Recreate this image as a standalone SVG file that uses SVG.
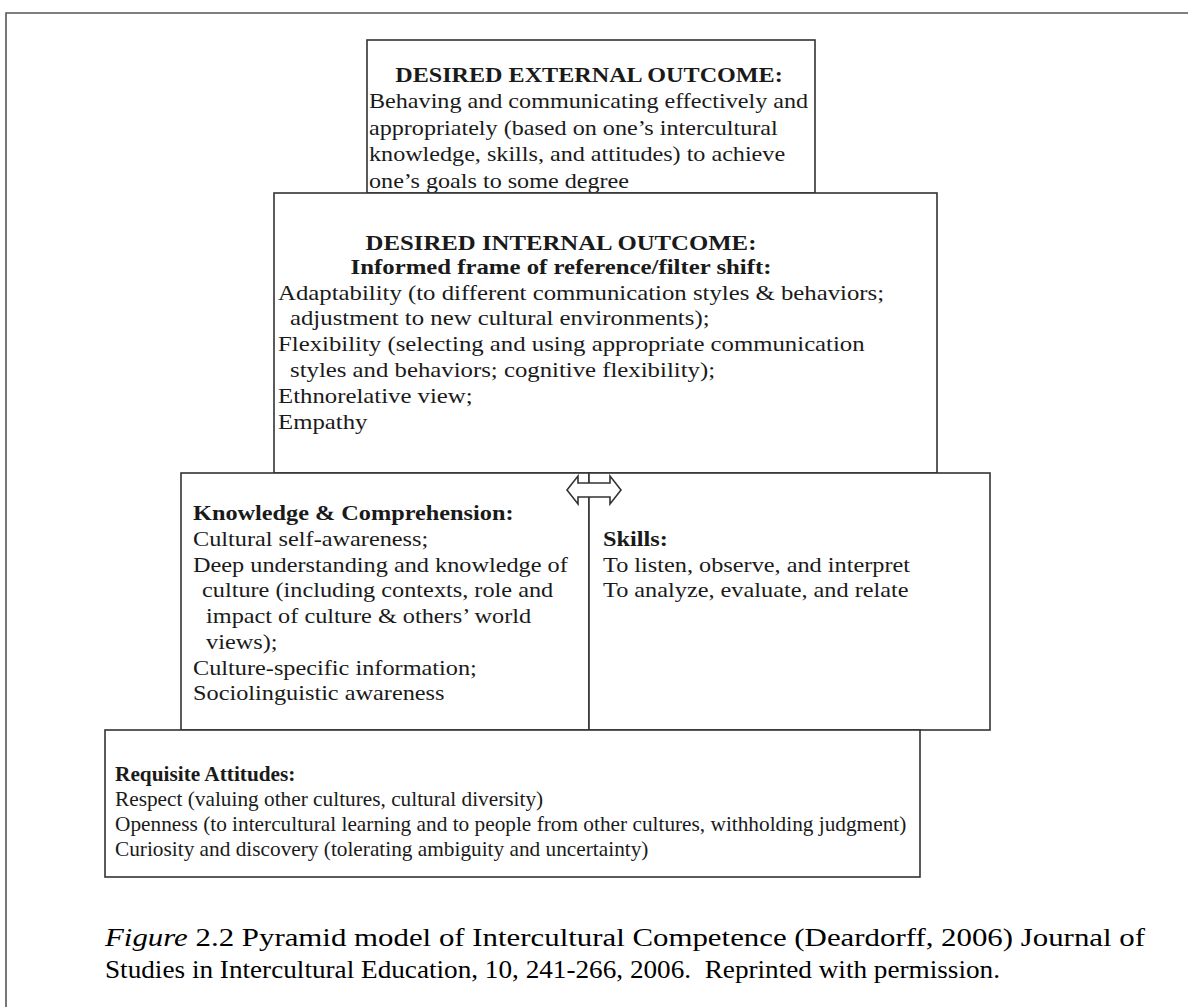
<svg xmlns="http://www.w3.org/2000/svg" width="1188" height="1007" viewBox="0 0 1188 1007">
<style>
.t{font-family:"Liberation Serif","Times New Roman",serif;font-size:21px;fill:#1a1a1a}
.s{font-size:20px}
.b{font-weight:bold}
.c{text-anchor:middle}
.box{fill:#fff;stroke:#333;stroke-width:1.6}
.ln{fill:none;stroke:#555;stroke-width:1.6}
.cap{font-family:"Liberation Serif","Times New Roman",serif;font-size:25px;fill:#000}
</style>
<rect width="1188" height="1007" fill="#fff"/>
<g id="frame"><path class="ln" d="M6,1007 V13 H1188"/></g>

<g id="external">
<rect class="box" x="367" y="40" width="448" height="153"/>
<text class="t b c" transform="translate(589,82) scale(1.15,1)">DESIRED EXTERNAL OUTCOME:</text>
<text class="t" transform="translate(369,108) scale(1.15,1)">Behaving and communicating effectively and</text>
<text class="t" transform="translate(369,135) scale(1.15,1)">appropriately (based on one’s intercultural</text>
<text class="t" transform="translate(369,161) scale(1.15,1)">knowledge, skills, and attitudes) to achieve</text>
<text class="t" transform="translate(369,188) scale(1.15,1)">one’s goals to some degree</text>
</g>

<g id="internal">
<rect class="box" x="274" y="193" width="663" height="280"/>
<text class="t b c" transform="translate(561,250) scale(1.18,1)">DESIRED INTERNAL OUTCOME:</text>
<text class="t b c" transform="translate(561,274) scale(1.18,1)">Informed frame of reference/filter shift:</text>
<text class="t" transform="translate(278,300) scale(1.18,1)">Adaptability (to different communication styles &amp; behaviors;</text>
<text class="t" transform="translate(290,325) scale(1.18,1)">adjustment to new cultural environments);</text>
<text class="t" transform="translate(278,351) scale(1.18,1)">Flexibility (selecting and using appropriate communication</text>
<text class="t" transform="translate(290,377) scale(1.18,1)">styles and behaviors; cognitive flexibility);</text>
<text class="t" transform="translate(278,403) scale(1.18,1)">Ethnorelative view;</text>
<text class="t" transform="translate(278,429) scale(1.18,1)">Empathy</text>
</g>

<g id="knowledge">
<rect class="box" x="181" y="473" width="408" height="257"/>
<text class="t b" transform="translate(193,520) scale(1.157,1)">Knowledge &amp; Comprehension:</text>
<text class="t" transform="translate(193,546) scale(1.157,1)">Cultural self-awareness;</text>
<text class="t" transform="translate(193,572) scale(1.157,1)">Deep understanding and knowledge of</text>
<text class="t" transform="translate(202,597) scale(1.157,1)">culture (including contexts, role and</text>
<text class="t" transform="translate(206,623) scale(1.157,1)">impact of culture &amp; others’ world</text>
<text class="t" transform="translate(206,649) scale(1.157,1)">views);</text>
<text class="t" transform="translate(193,675) scale(1.157,1)">Culture-specific information;</text>
<text class="t" transform="translate(193,700) scale(1.157,1)">Sociolinguistic awareness</text>
</g>

<g id="skills">
<rect class="box" x="589" y="473" width="401" height="257"/>
<text class="t b" transform="translate(603,546) scale(1.157,1)">Skills:</text>
<text class="t" transform="translate(603,572) scale(1.157,1)">To listen, observe, and interpret</text>
<text class="t" transform="translate(603,597) scale(1.157,1)">To analyze, evaluate, and relate</text>
</g>

<g id="attitudes">
<rect class="box" x="105" y="730" width="815" height="147"/>
<text class="t s b" transform="translate(115,781) scale(1.065,1)">Requisite Attitudes:</text>
<text class="t s" transform="translate(115,806) scale(1.065,1)">Respect (valuing other cultures, cultural diversity)</text>
<text class="t s" transform="translate(115,831) scale(1.065,1)">Openness (to intercultural learning and to people from other cultures, withholding judgment)</text>
<text class="t s" transform="translate(115,856) scale(1.065,1)">Curiosity and discovery (tolerating ambiguity and uncertainty)</text>
</g>

<g id="connectors">
<path class="box" d="M567,490 L578,476 L578,483 L610,483 L610,476 L621,490 L610,504 L610,497 L578,497 L578,504 Z"/>
</g>

<g id="caption">
<text class="cap" x="105" y="946" textLength="1040" lengthAdjust="spacingAndGlyphs"><tspan font-style="italic">Figure</tspan> 2.2 Pyramid model of Intercultural Competence (Deardorff, 2006) Journal of</text>
<text class="cap" x="105" y="978" textLength="895" lengthAdjust="spacingAndGlyphs">Studies in Intercultural Education, 10, 241-266, 2006. &#160;Reprinted with permission.</text>
</g>
</svg>
